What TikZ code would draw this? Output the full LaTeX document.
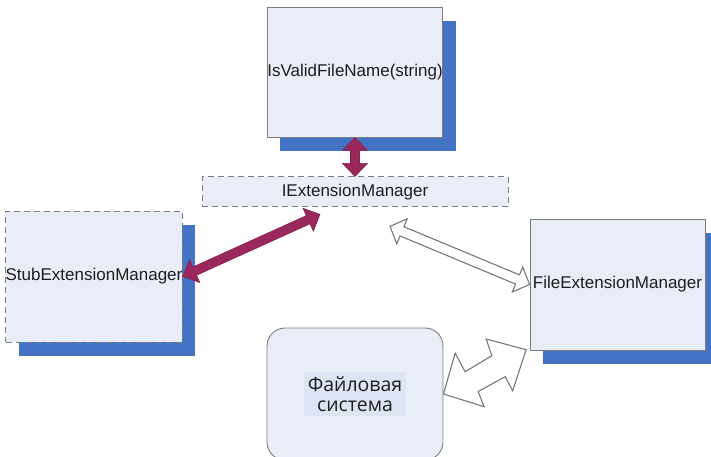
\documentclass[tikz,border=0pt]{standalone}
\usepackage{fontspec}
\setmainfont{Liberation Sans}
\newfontfamily\cyrfont{Open Sans}
\usetikzlibrary{calc,positioning,shadows}

\definecolor{boxfill}{RGB}{233,237,248}
\definecolor{boxline}{RGB}{125,125,125}
\definecolor{shadowblue}{RGB}{68,114,196}
\definecolor{arrowmaroon}{RGB}{155,40,92}
\definecolor{arrowgray}{RGB}{120,120,120}
\definecolor{hlblue}{RGB}{221,228,243}
\definecolor{labelgray}{RGB}{30,30,30}

% fat double-headed arrow between two points
\newcommand{\arrlen}{13pt}
\newcommand{\arrhead}{12.5pt}
\newcommand{\arrshaft}{4.5pt}
\newcommand{\fatarrow}[3][]{%
  \draw[#1] (#2)
    -- ($(#2)!\arrlen!(#3)!\arrhead!90:(#3)$)
    -- ($(#2)!\arrlen!(#3)!\arrshaft!90:(#3)$)
    -- ($(#3)!\arrlen!(#2)!\arrshaft!270:(#2)$)
    -- ($(#3)!\arrlen!(#2)!\arrhead!270:(#2)$)
    -- (#3)
    -- ($(#3)!\arrlen!(#2)!\arrhead!90:(#2)$)
    -- ($(#3)!\arrlen!(#2)!\arrshaft!90:(#2)$)
    -- ($(#2)!\arrlen!(#3)!\arrshaft!270:(#3)$)
    -- ($(#2)!\arrlen!(#3)!\arrhead!270:(#3)$)
    -- cycle;}

\begin{document}
\begin{tikzpicture}[x=1pt,y=-1pt,
    box/.style={draw=boxline,fill=boxfill,line width=0.9pt,inner sep=0pt,
      text=labelgray,font=\fontsize{17}{20}\selectfont},
    shadowed/.style={drop shadow={shadow xshift=13pt,shadow yshift=-14pt,
      fill=shadowblue,opacity=1}},
    dashedbox/.style={dash pattern=on 6pt off 4pt},
    maroonarrow/.style={fill=arrowmaroon,draw=arrowmaroon!85!black,line width=0.6pt},
    hollowarrow/.style={fill=white,draw=arrowgray,line width=1.1pt,line join=miter}]
    \useasboundingbox (0,0) rectangle (711,457);
    \clip (0,0) rectangle (711,457);

    \node[box,shadowed,minimum width=174pt,minimum height=130pt] (isv) at (355,72) {IsValidFileName(string)};
    \node[box,dashedbox,minimum width=306pt,minimum height=30pt] (iem) [below=39pt of isv] {IExtensionManager};
    \node[box,shadowed,dashedbox,minimum width=176pt,minimum height=131pt] (stub) at (94,276.5) {StubExtensionManager};
    \node[box,shadowed,minimum width=175pt,minimum height=131pt] (fem) at (617.5,284.5) {FileExtensionManager};
    \node[box,rounded corners=18pt,minimum width=176pt,minimum height=132pt,
      label={[name=fstext,fill=hlblue,text=labelgray,inner sep=0pt,minimum width=102pt,minimum height=44pt,
        align=center,font=\cyrfont\fontsize{19.5}{19.5}\selectfont]center:{Файловая\\система}}] (fs) at (355,394) {};

    \coordinate (iemL) at ([xshift=-35pt,yshift=-7pt]iem.south);
    \coordinate (iemR) at ([xshift=35pt,yshift=-19pt]iem.south);

    \fatarrow[maroonarrow]{isv.south}{iem.north}
    \fatarrow[maroonarrow]{stub.east}{iemL}
    {\renewcommand{\arrshaft}{5pt}\renewcommand{\arrhead}{13.5pt}
     \fatarrow[hollowarrow]{iemR}{fem.west}}

    % zigzag arrow between file system and manager
    \begin{scope}[shift={(fs.east)}]
        \draw[hollowarrow] (0,0) -- (11.7,-40.8) -- (21.7,-22.3) -- (48.4,-38.3) -- (42.7,-55)
            -- (82.7,-44.3) -- (69.2,-3.3) -- (61.7,-17.3) -- (34.7,-2.5) -- (40.7,12.7) -- cycle;
    \end{scope}
\end{tikzpicture}
\end{document}
